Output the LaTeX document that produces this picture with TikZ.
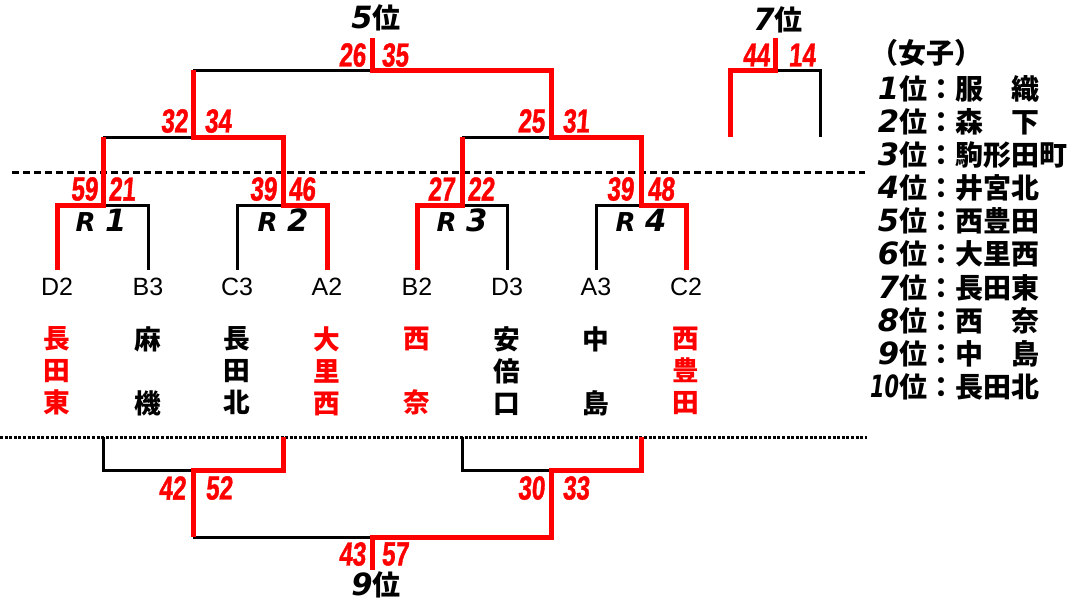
\documentclass[tikz,border=0pt]{standalone}
\usepackage{fontspec}
\setmainfont{Liberation Sans}
\newfontfamily\jpfont{Noto Sans CJK JP}
\newfontfamily\popfont{DejaVu Sans}
\newfontfamily\scorefont{Liberation Sans}[FakeStretch=0.72,FakeSlant=0.08,FakeBold=1.2]
\newcommand{\pnum}[1]{{\popfont\bfseries\itshape\fontsize{23}{24}\selectfont #1}}

\tikzset{every picture/.style={line width=0.75pt}}
\tikzset{
  lose/.style={draw=black,line width=2.25pt},
  win/.style={draw={rgb,255:red,255;green,0;blue,0},line width=3.75pt},
  score/.style={inner sep=0pt,text={rgb,255:red,255;green,0;blue,0},font=\scorefont\bfseries\fontsize{25}{25}\selectfont},
  seed/.style={inner sep=0pt,font=\fontsize{18.75}{20}\selectfont},
  team/.style={inner sep=0pt,anchor=north,align=center,font=\jpfont\bfseries\fontsize{20}{24}\selectfont},
  place/.style={inner sep=0pt,font=\jpfont\bfseries\fontsize{21}{24}\selectfont},
  rlabel/.style={inner sep=0pt,font=\popfont\bfseries\itshape\fontsize{19.5}{20}\selectfont},
}

\begin{document}
\begin{tikzpicture}[x=0.75pt,y=0.75pt,yscale=-1,xscale=1]
\useasboundingbox (0,0) rectangle (1087,601);

%Dashed Lines
\draw [line width=2.25pt,dash pattern={on 5.25pt off 3pt}] (12,172) -- (865,172);
\draw [line width=2.25pt,dash pattern={on 2.25pt off 1.2pt}] (0,437) -- (867,437);

%Coordinates
\coordinate (pD2) at (57,270);
\coordinate (pB3) at (148,270);
\coordinate (pC3) at (237,270);
\coordinate (pA2) at (327,270);
\coordinate (pB2) at (417,270);
\coordinate (pD3) at (507,270);
\coordinate (pA3) at (596,270);
\coordinate (pC2) at (686,270);
\coordinate (m1) at (103,205);
\coordinate (m2) at (283,205);
\coordinate (m3) at (462,205);
\coordinate (m4) at (641,205);
\coordinate (s1) at (193,137);
\coordinate (s2) at (551,137);
\coordinate (f5) at (372,70);
\coordinate (w5) at (372,38);
\coordinate (p7a) at (730,137);
\coordinate (p7b) at (820,137);
\coordinate (f7) at (775,70);
\coordinate (w7) at (775,38);
\coordinate (q1) at (103,437);
\coordinate (q2) at (283,437);
\coordinate (q3) at (462,437);
\coordinate (q4) at (641,437);
\coordinate (b1) at (193,470);
\coordinate (b2) at (551,470);
\coordinate (f9) at (372,537);
\coordinate (w9) at (372,570);

%Straight Lines (lost)
\draw [lose] (pB3) |- (m1);
\draw [lose] (pC3) |- (m2);
\draw [lose] (pD3) |- (m3);
\draw [lose] (pA3) |- (m4);
\draw [lose] (m1 |- s1) -- (s1);
\draw [lose] (m3 |- s2) -- (s2);
\draw [lose] (s1 |- f5) -- (f5);
\draw [lose] (p7b) |- (f7);
\draw [lose] (q1) |- (b1);
\draw [lose] (q3) |- (b2);
\draw [lose] (b1 |- f9) -- (f9);

%Straight Lines (won)
\draw [win] (pD2) |- (m1) -- (m1 |- s1);
\draw [win] (pA2) |- (m2) -- (m2 |- s1) -- (s1) -- (s1 |- f5);
\draw [win] (pB2) |- (m3) -- (m3 |- s2);
\draw [win] (pC2) |- (m4) -- (m4 |- s2) -- (s2) -- (s2 |- f5) -- (f5) -- (w5);
\draw [win] (p7a) |- (f7) -- (w7);
\draw [win] (q2) |- (b1) -- (b1 |- f9);
\draw [win] (q4) |- (b2) -- (b2 |- f9) -- (f9) -- (w9);

% Text Node
\node [score,anchor=east] (sc59) at (98,189) {59};
\node [score,anchor=west] (sc21) at (108,189) {21};
\node [score,anchor=east] (sc39a) at (277,189) {39};
\node [score,anchor=west] (sc46) at (288,189) {46};
\node [score,anchor=east] (sc27) at (455,189) {27};
\node [score,anchor=west] (sc22) at (467,189) {22};
\node [score,anchor=east] (sc39b) at (634,189) {39};
\node [score,anchor=west] (sc48) at (647,189) {48};
\node [score,anchor=east] (sc32) at (188,121) {32};
\node [score,anchor=west] (sc34) at (204,121) {34};
\node [score,anchor=east] (sc25) at (545,121) {25};
\node [score,anchor=west] (sc31) at (562,121) {31};
\node [score,anchor=east] (sc26) at (366,55) {26};
\node [score,anchor=west] (sc35) at (381,55) {35};
\node [score,anchor=east] (sc44) at (770,55) {44};
\node [score,anchor=west] (sc14) at (788,55) {14};
\node [score,anchor=east] (sc42) at (186,488) {42};
\node [score,anchor=west] (sc52) at (205,488) {52};
\node [score,anchor=east] (sc30) at (545,488) {30};
\node [score,anchor=west] (sc33) at (562,488) {33};
\node [score,anchor=east] (sc43) at (366,554) {43};
\node [score,anchor=west] (sc57) at (381,554) {57};

% Text Node
\node [rlabel] (r1) at (101,220) {R\hspace{7pt}\pnum{1}};
\node [rlabel] (r2) at (283,220) {R\hspace{7pt}\pnum{2}};
\node [rlabel] (r3) at (462,220) {R\hspace{7pt}\pnum{3}};
\node [rlabel] (r4) at (641,220) {R\hspace{7pt}\pnum{4}};

% Text Node
\node [seed] (sD2) at (57,287) {D2};
\node [seed] (sB3) at (148,287) {B3};
\node [seed] (sC3) at (237,287) {C3};
\node [seed] (sA2) at (327,287) {A2};
\node [seed] (sB2) at (417,287) {B2};
\node [seed] (sD3) at (507,287) {D3};
\node [seed] (sA3) at (596,287) {A3};
\node [seed] (sC2) at (686,287) {C2};

% Text Node
\node [team,text=red] (tD2) at (57,326) {長\\田\\東};
\node [team] (tB3) at (148,326) {麻\\[24pt]機};
\node [team] (tC3) at (237,326) {長\\田\\北};
\node [team,text=red] (tA2) at (327,326) {大\\里\\西};
\node [team,text=red] (tB2) at (417,326) {西\\[24pt]奈};
\node [team] (tD3) at (507,326) {安\\倍\\口};
\node [team] (tA3) at (596,326) {中\\[24pt]島};
\node [team,text=red] (tC2) at (686,326) {西\\豊\\田};

% Text Node
\node [place] (pl5) at (376,18) {\pnum{5}位};
\node [place] (pl7) at (778,20) {\pnum{7}位};
\node [place] (pl9) at (376,585) {\pnum{9}位};

% Text Node
\node [place] (girls) at (926,53) {（女子）};
\node [place,anchor=west] (rk1) at (872,89) {\makebox[20pt][r]{\pnum{1}}位：服　織};
\node [place,anchor=west] (rk2) at (872,122) {\makebox[20pt][r]{\pnum{2}}位：森　下};
\node [place,anchor=west] (rk3) at (872,155) {\makebox[20pt][r]{\pnum{3}}位：駒形田町};
\node [place,anchor=west] (rk4) at (872,188) {\makebox[20pt][r]{\pnum{4}}位：井宮北};
\node [place,anchor=west] (rk5) at (872,221) {\makebox[20pt][r]{\pnum{5}}位：西豊田};
\node [place,anchor=west] (rk6) at (872,254) {\makebox[20pt][r]{\pnum{6}}位：大里西};
\node [place,anchor=west] (rk7) at (872,288) {\makebox[20pt][r]{\pnum{7}}位：長田東};
\node [place,anchor=west] (rk8) at (872,321) {\makebox[20pt][r]{\pnum{8}}位：西　奈};
\node [place,anchor=west] (rk9) at (872,354) {\makebox[20pt][r]{\pnum{9}}位：中　島};
\node [place,anchor=west] (rk10) at (872,387) {\makebox[20pt][r]{\scalebox{0.68}[1]{\pnum{10}}}位：長田北};

\end{tikzpicture}
\end{document}
